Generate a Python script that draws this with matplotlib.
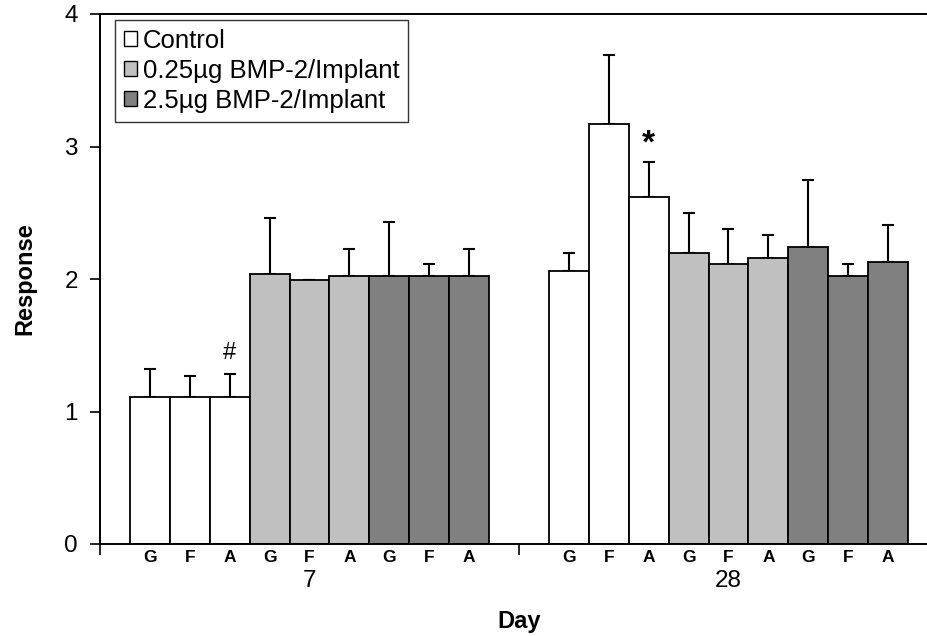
import numpy as np
import matplotlib
matplotlib.use('Agg')
import matplotlib.pyplot as plt
from matplotlib.patches import Patch
import matplotlib.transforms as mtransforms

plt.rcParams['font.family'] = ['Liberation Sans', 'DejaVu Sans']

# %%
# Data
days = ['7', '28']
sites = ['G', 'F', 'A']
groups = ['Control', '0.25µg BMP-2/Implant', '2.5µg BMP-2/Implant']
colors = ['#FFFFFF', '#C0C0C0', '#808080']

# day 7
d7_control = [1.11, 1.11, 1.11]
d7_control_err = [0.21, 0.16, 0.17]
d7_low = [2.04, 1.99, 2.02]
d7_low_err = [0.42, 0.005, 0.21]
d7_high = [2.02, 2.02, 2.02]
d7_high_err = [0.41, 0.09, 0.21]

# day 28
d28_control = [2.06, 3.17, 2.62]
d28_control_err = [0.14, 0.52, 0.26]
d28_low = [2.20, 2.11, 2.16]
d28_low_err = [0.30, 0.27, 0.17]
d28_high = [2.24, 2.02, 2.13]
d28_high_err = [0.51, 0.09, 0.28]

vals = [[d7_control, d7_low, d7_high], [d28_control, d28_low, d28_high]]
errs = [[d7_control_err, d7_low_err, d7_high_err], [d28_control_err, d28_low_err, d28_high_err]]

# %%
fig = plt.figure(figsize=(9.28, 6.36), dpi=100)
ax = fig.add_axes([100/928, 92/636, 838/928, 530/636])

gap = 0.75        # space between category edge and first bar (bar widths)
cat_w = 9 + 2*gap # width of one day category
xlab_pos = []
xlab_txt = []
for d in range(len(days)):
    start = d*cat_w
    for g in range(len(groups)):
        x = start + g*3 + np.arange(3)
        ax.bar(x, vals[d][g], width=1.0, color=colors[g], edgecolor='black',
               linewidth=1.3, zorder=2)
        ax.errorbar(x, vals[d][g], yerr=[np.zeros(3), errs[d][g]], fmt='none',
                    ecolor='black', elinewidth=1.5, capsize=4.5, capthick=1.5, zorder=1)
        xlab_pos += list(x)
        xlab_txt += sites

left = -0.5 - gap
ax.set_xlim(left, left + 2*cat_w)
ax.set_ylim(0, 4)

# category boundary ticks
ax.set_xticks([left + i*cat_w for i in range(3)])
ax.set_xticklabels([])
ax.tick_params(axis='x', which='major', direction='out', length=8, width=1.2)
ax.set_xticks(xlab_pos, minor=True)
ax.set_xticklabels(xlab_txt, minor=True, fontsize=12.5, fontweight='bold')
ax.tick_params(axis='x', which='minor', length=0, pad=4)

ax.set_yticks([0, 1, 2, 3, 4])
ax.tick_params(axis='y', direction='out', length=7, width=1.2, labelsize=17.5, pad=9)

trans = mtransforms.blended_transform_factory(ax.transData, ax.transAxes)
for d in range(len(days)):
    ax.text(left + d*cat_w + cat_w/2, -0.07, days[d], transform=trans,
            ha='center', va='center', fontsize=17.5)

ax.set_xlabel('Day', fontsize=17, fontweight='bold', labelpad=33)
ax.set_ylabel('Response', fontsize=17, fontweight='bold', labelpad=20)

for s in ['left', 'bottom', 'top']:
    ax.spines[s].set_linewidth(1.4)
ax.spines['right'].set_visible(False)

# significance marks
ax.text(2, 1.44, '#', ha='center', va='center', fontsize=17)
ax.text(cat_w + 2, 3.02, '*', ha='center', va='center', fontsize=24, fontweight='bold')

handles = [Patch(facecolor=c, edgecolor='black', linewidth=1.0) for c in colors]
leg = ax.legend(handles, groups, loc='upper left', bbox_to_anchor=(0.018, 0.989),
                fontsize=18.5, frameon=True, fancybox=False, edgecolor='black',
                handlelength=0.5, handleheight=0.5, handletextpad=0.25,
                labelspacing=0.24, borderpad=0.34, borderaxespad=0.0)
leg.get_frame().set_linewidth(1.0)

fig.savefig('out.png', dpi=100)
